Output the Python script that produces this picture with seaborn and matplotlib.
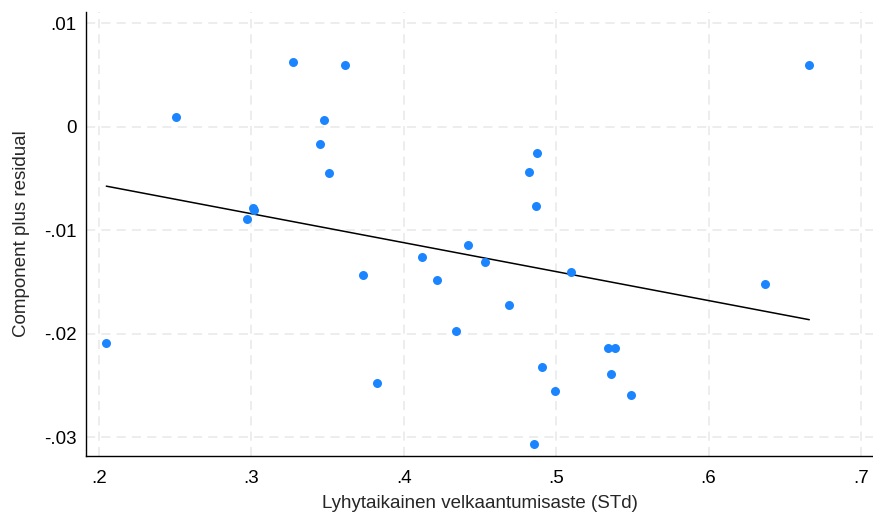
import matplotlib
matplotlib.use("Agg")
import matplotlib.pyplot as plt
import seaborn as sns
import pandas as pd
import numpy as np

# Data
x_vals = [0.2505, 0.3275, 0.3616, 0.3479, 0.3452, 0.3512, 0.3013, 0.3015, 0.2971,
          0.4120, 0.6661, 0.4872, 0.4822, 0.4865, 0.4419, 0.3732, 0.4216, 0.2048,
          0.3824, 0.4533, 0.5097, 0.6373, 0.4693, 0.4340, 0.5342, 0.5386, 0.4905,
          0.5357, 0.4990, 0.5493, 0.4856]
y_vals = [0.00100, 0.00631, 0.00602, 0.00062, -0.00167, -0.00447, -0.00780, -0.00805, -0.00888,
          -0.01255, 0.00602, -0.00257, -0.00440, -0.00769, -0.01139, -0.01429, -0.01477, -0.02088,
          -0.02471, -0.01309, -0.01406, -0.01518, -0.01718, -0.01969, -0.02139, -0.02139, -0.02317,
          -0.02390, -0.02548, -0.02590, -0.03069]
slope = -0.02798  # component line: y = slope * x

x_ticks = [0.2, 0.3, 0.4, 0.5, 0.6, 0.7]
x_tick_labels = [".2", ".3", ".4", ".5", ".6", ".7"]
y_ticks = [-0.03, -0.02, -0.01, 0.0, 0.01]
y_tick_labels = ["-.03", "-.02", "-.01", "0", ".01"]

df = pd.DataFrame({"x": x_vals, "y": y_vals})
line_x = np.array([min(x_vals), max(x_vals)])
line_df = pd.DataFrame({"x": line_x, "y": slope * line_x})

sns.set_style("white")
plt.rcParams["font.family"] = ["Liberation Sans", "DejaVu Sans"]

fig = plt.figure(figsize=(8.73, 5.16), dpi=100)
ax = fig.add_axes([86 / 873, 60 / 516, 787 / 873, 444 / 516])

for t in x_ticks:
    ax.axvline(t, color="#e8e8e8", lw=1.1, ls=(0, (6, 4)), zorder=0)
for t in y_ticks:
    ax.axhline(t, color="#e8e8e8", lw=1.1, ls=(0, (6, 4)), zorder=0)

sns.scatterplot(data=df, x="x", y="y", ax=ax, color="#1a85ff", s=42,
                linewidth=0, zorder=3)
sns.lineplot(data=line_df, x="x", y="y", ax=ax, color="black", lw=1.1, zorder=2)

ax.set_xlim(0.19147, 0.7079)
ax.set_ylim(-0.03181, 0.0111)
ax.set_xticks(x_ticks)
ax.set_xticklabels(x_tick_labels)
ax.set_yticks(y_ticks)
ax.set_yticklabels(y_tick_labels)
ax.tick_params(axis="both", direction="out", length=4, width=1, color="black",
               labelsize=13.5, labelcolor="black")
ax.tick_params(axis="x", pad=6)
ax.tick_params(axis="y", pad=3)

for s in ["top", "right"]:
    ax.spines[s].set_visible(False)
for s in ["left", "bottom"]:
    ax.spines[s].set_color("black")
    ax.spines[s].set_linewidth(1.0)

ax.set_xlabel("Lyhytaikainen velkaantumisaste (STd)", fontsize=13.5, labelpad=6)
ax.set_ylabel("Component plus residual", fontsize=13.5, labelpad=10)

fig.savefig("out.png", dpi=100, facecolor="white")
